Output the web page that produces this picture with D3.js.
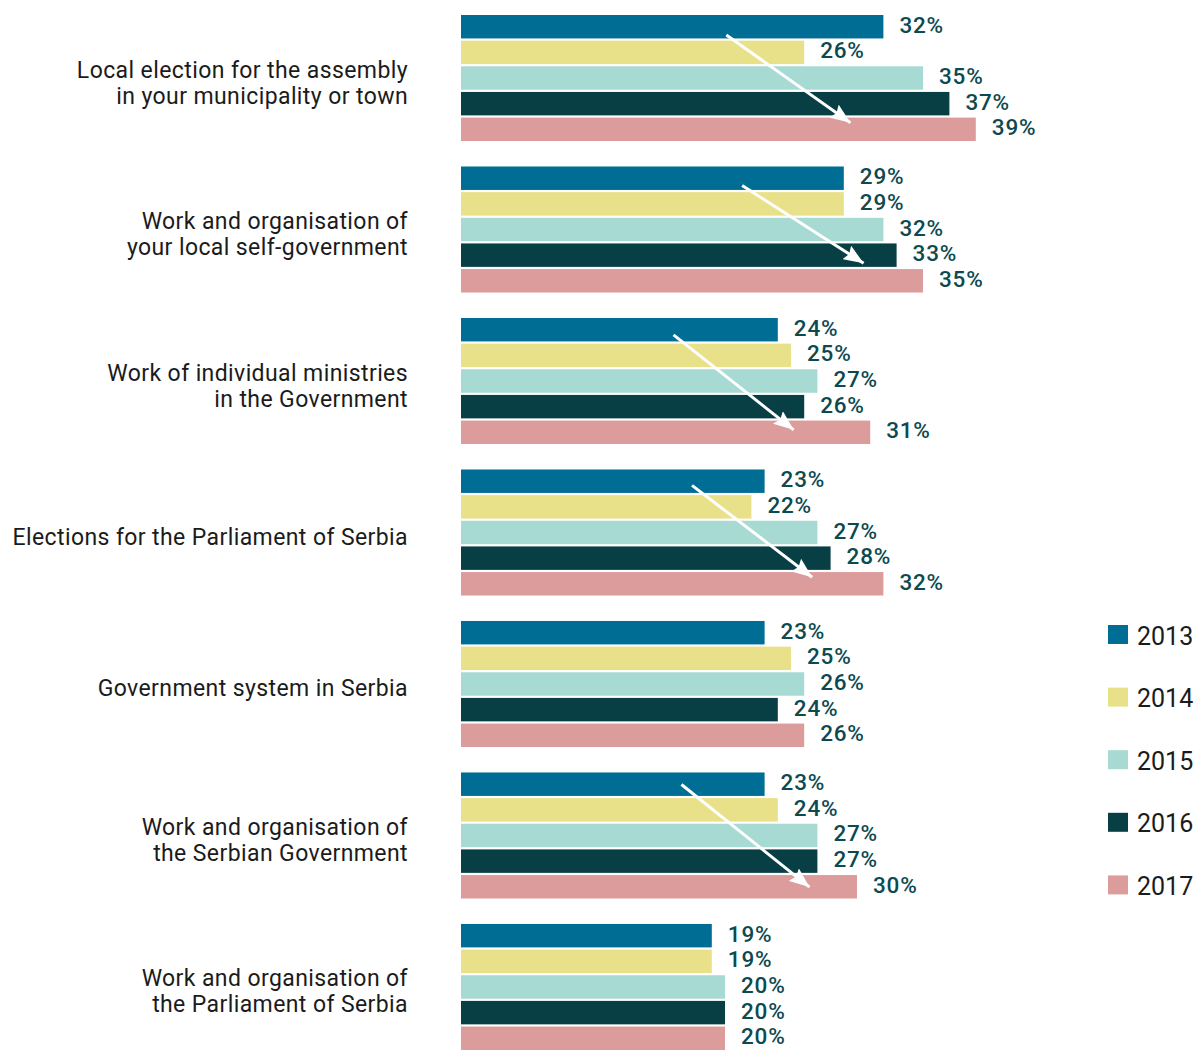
<!DOCTYPE html>
<html>
<head>
<meta charset="utf-8">
<script src="https://cdn.jsdelivr.net/npm/d3@7"></script>
<style>
  html, body { margin: 0; padding: 0; background: #ffffff; }
  svg { display: block; }
</style>
</head>
<body>
<svg id="chart" width="1196" height="1050"></svg>
<script>
// Survey topics, top to bottom; "\n" splits the label into lines
const categories = [
  "Local election for the assembly\nin your municipality or town",
  "Work and organisation of\nyour local self-government",
  "Work of individual ministries\nin the Government",
  "Elections for the Parliament of Serbia",
  "Government system in Serbia",
  "Work and organisation of\nthe Serbian Government",
  "Work and organisation of\nthe Parliament of Serbia"
];

const years = ["2013", "2014", "2015", "2016", "2017"];

// Percentages per year, one entry per category (same order as above)
const values2013 = [32, 29, 24, 23, 23, 23, 19];
const values2014 = [26, 29, 25, 22, 25, 24, 19];
const values2015 = [35, 32, 27, 27, 26, 27, 20];
const values2016 = [37, 33, 26, 28, 24, 27, 20];
const values2017 = [39, 35, 31, 32, 26, 30, 20];

const seriesValues = [values2013, values2014, values2015, values2016, values2017];
const yearColors = ["#006e94", "#e9e08a", "#a6dad2", "#073f45", "#dc9c9c"];

// Trend arrows: value (%) and position within the group in bar rows
const trendArrows = [
  { category: 0, from: [20.1, 0.78], to: [29.5, 4.2] },
  { category: 1, from: [21.3, 0.74], to: [30.5, 3.77] },
  { category: 2, from: [16.1, 0.66], to: [25.2, 4.36] },
  { category: 3, from: [17.5, 0.62], to: [26.6, 4.2] },
  { category: 5, from: [16.7, 0.47], to: [26.4, 4.47] }
];

const width = 1196;
const height = 1050;
const svg = d3.select("#chart");

const barLeft = 461;
const pxPerPercent = 13.2;
const fontFamily = "Roboto, 'DejaVu Sans', sans-serif";

const x = d3.scaleLinear().domain([0, 39]).range([barLeft, barLeft + 39 * pxPerPercent]);

const yGroup = d3.scaleBand()
  .domain(d3.range(categories.length))
  .range([15, 1050])
  .paddingInner(0.168)
  .paddingOuter(0);

const yBar = d3.scaleBand()
  .domain(years)
  .range([0, yGroup.bandwidth()])
  .paddingInner(0.0856);

const rowStep = yBar.step();

const rows = [];
categories.forEach((c, ci) => {
  years.forEach((yr, si) => {
    rows.push({ ci, si, year: yr, value: seriesValues[si][ci] });
  });
});

const groups = svg.append("g").attr("class", "groups");

// Bars
groups.selectAll("rect.bar")
  .data(rows)
  .join("rect")
  .attr("class", "bar")
  .attr("x", x(0))
  .attr("y", d => yGroup(d.ci) + yBar(d.year))
  .attr("width", d => x(d.value) - x(0))
  .attr("height", yBar.bandwidth())
  .attr("fill", d => yearColors[d.si]);

// Value labels
groups.selectAll("text.value")
  .data(rows)
  .join("text")
  .attr("class", "value")
  .attr("x", d => x(d.value) + 16)
  .attr("y", d => yGroup(d.ci) + yBar(d.year) + yBar.bandwidth() / 2 - 2)
  .attr("dominant-baseline", "central")
  .attr("font-family", fontFamily)
  .attr("font-weight", 500)
  .attr("font-size", 22.5)
  .attr("letter-spacing", 0.8)
  .attr("fill", "#0d4a50")
  .text(d => d.value + "%");

// Category labels (right aligned against the bars)
const catLabels = svg.append("g").attr("class", "categories")
  .selectAll("text")
  .data(categories)
  .join("text")
  .attr("text-anchor", "end")
  .attr("font-family", fontFamily)
  .attr("font-size", 23)
  .attr("letter-spacing", 0.4)
  .attr("fill", "#1b1b1b")
  .attr("transform", (d, i) => `translate(408, ${yGroup(i) + yGroup.bandwidth() / 2 + 1})`);

const lineHeight = 26;
catLabels.each(function(d) {
  const lines = d.split("\n");
  const t = d3.select(this);
  const first = -((lines.length - 1) * lineHeight) / 2 + 11.5;
  lines.forEach((ln, k) => {
    t.append("tspan")
      .attr("x", 0)
      .attr("y", first + k * lineHeight)
      .text(ln);
  });
});

// Trend arrows
const defs = svg.append("defs");
defs.append("marker")
  .attr("id", "arrowhead")
  .attr("viewBox", "0 0 20 16")
  .attr("refX", 20)
  .attr("refY", 8)
  .attr("markerUnits", "userSpaceOnUse")
  .attr("markerWidth", 20)
  .attr("markerHeight", 16)
  .attr("orient", "auto")
  .append("path")
  .attr("d", "M0,0 L20,8 L0,16 L3,8 Z")
  .attr("fill", "#ffffff");

svg.append("g").attr("class", "arrows")
  .selectAll("line")
  .data(trendArrows)
  .join("line")
  .attr("x1", d => x(d.from[0]))
  .attr("y1", d => yGroup(d.category) + d.from[1] * rowStep)
  .attr("x2", d => x(d.to[0]))
  .attr("y2", d => yGroup(d.category) + d.to[1] * rowStep)
  .attr("stroke", "#ffffff")
  .attr("stroke-width", 3)
  .attr("marker-end", "url(#arrowhead)");

// Legend
const legend = svg.append("g").attr("class", "legend")
  .selectAll("g")
  .data(years)
  .join("g")
  .attr("transform", (d, i) => `translate(1108, ${625 + i * 62.6})`);

legend.append("rect")
  .attr("width", 20)
  .attr("height", 19)
  .attr("fill", (d, i) => yearColors[i]);

legend.append("text")
  .attr("x", 29)
  .attr("y", 19.5)
  .attr("font-family", fontFamily)
  .attr("font-size", 25)
  .attr("fill", "#1b1b1b")
  .text(d => d);
</script>
</body>
</html>
